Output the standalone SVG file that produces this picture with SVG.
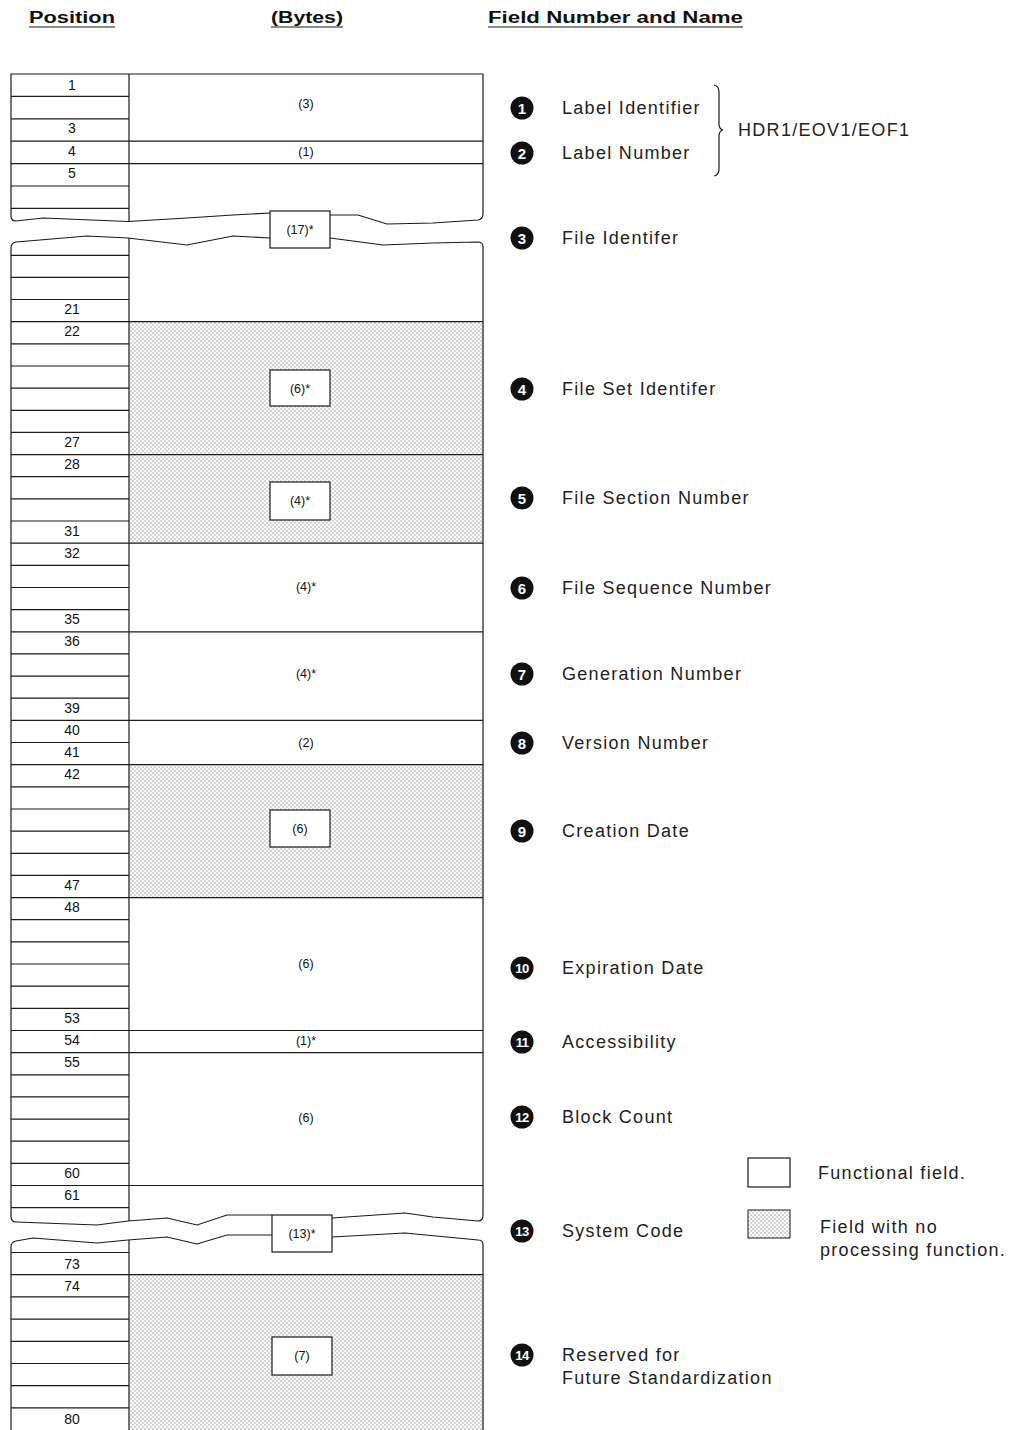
<svg xmlns="http://www.w3.org/2000/svg" width="1011" height="1430" viewBox="0 0 1011 1430">
<style>
.ln{stroke:#1a1a1a;stroke-width:1.2;fill:none}
.bx{stroke:#1a1a1a;stroke-width:1.2;fill:#fff}
.hd{font-family:"Liberation Sans",Arial,sans-serif;font-weight:bold;font-size:16px;fill:#111}
.pos{font-family:"Liberation Sans",Arial,sans-serif;font-size:14px;fill:#111;text-anchor:middle}
.by{font-family:"Liberation Sans",Arial,sans-serif;font-size:12.5px;fill:#111;text-anchor:middle}
.lb{font-family:"Liberation Sans",Arial,sans-serif;font-size:18px;fill:#222;letter-spacing:1.3px}
.cn{font-family:"Liberation Sans",Arial,sans-serif;font-weight:bold;font-size:15px;fill:#fff;text-anchor:middle}
.cn2{font-family:"Liberation Sans",Arial,sans-serif;font-weight:bold;font-size:13px;fill:#fff;text-anchor:middle;letter-spacing:-0.5px}
.st{fill:url(#stip)}
</style>
<defs>
<pattern id="stip" patternUnits="userSpaceOnUse" width="4" height="4">
<rect x="0" y="0" width="4" height="4" fill="#fff"/>
<rect x="0.5" y="0.5" width="1" height="1" fill="#555"/>
<rect x="2.5" y="2.5" width="1" height="1" fill="#555"/>
</pattern>
</defs>

<g id="headers">
<text class="hd" x="29" y="23" textLength="86" lengthAdjust="spacingAndGlyphs">Position</text>
<line class="ln" x1="29" y1="27" x2="115" y2="27"/>
<text class="hd" x="271" y="23" textLength="72" lengthAdjust="spacingAndGlyphs">(Bytes)</text>
<line class="ln" x1="271" y1="27" x2="343" y2="27"/>
<text class="hd" x="488" y="23" textLength="255" lengthAdjust="spacingAndGlyphs">Field Number and Name</text>
<line class="ln" x1="488" y1="27" x2="743" y2="27"/>
</g>

<g id="stippled-fields">
<rect class="st" x="129" y="321.7" width="354" height="221.5"/>
<rect class="st" x="129" y="764.7" width="354" height="132.9"/>
<rect class="st" x="129" y="1274.7" width="354" height="156"/>
</g>

<g id="outline" class="ln">
<path d="M129,74 H11 V216 Q11,221 16,221 L43,218 L128,221.5 L187,218 L233,215 L270,213"/>
<path d="M330,215 L358,215 L387,224 L433,223 L478,220 Q483,219 483,214 V74 H129"/>
<path d="M11,1216 V248 Q11,243 16,242 L40,240 L87,236 L128,238 L187,245 L233,236 L270,238"/>
<path d="M330,238 L383,245 L433,243 L478,242 Q483,242 483,247 V1215 Q483,1221 478,1221 L433,1217 L405,1213 L332,1218"/>
<path d="M11,1216 Q11,1222 16,1222 L97,1225 L128,1221 L167,1218 L197,1225 L227,1215 L272,1215"/>
<path d="M11,1431 V1247 Q11,1242 16,1241 L33,1238 L97,1243 L128,1240 L167,1237 L197,1244 L227,1235 L272,1235"/>
<path d="M332,1237 L405,1233 L478,1240 Q483,1240 483,1245 V1431"/>
<line x1="129" y1="74" x2="129" y2="221.5"/>
<line x1="129" y1="238" x2="129" y2="1221"/>
<line x1="129" y1="1240" x2="129" y2="1431"/>
</g>

<g id="position-rows" class="ln">
<path d="M11,96.4H129M11,118.8H129M11,141.2H129M11,163.6H129M11,186H129M11,208.4H129"/>
<path d="M11,255.3H129M11,277.4H129M11,299.5H129M11,321.7H129M11,343.8H129M11,366H129M11,388.1H129M11,410.3H129M11,432.4H129M11,454.6H129M11,476.7H129M11,498.9H129M11,521H129M11,543.2H129M11,565.3H129M11,587.5H129M11,609.6H129M11,631.8H129M11,653.9H129M11,676.1H129M11,698.2H129M11,720.4H129M11,742.5H129M11,764.7H129M11,786.8H129M11,809H129M11,831.1H129M11,853.3H129M11,875.4H129M11,897.6H129M11,919.7H129M11,941.9H129M11,964H129M11,986.2H129M11,1008.3H129M11,1030.5H129M11,1052.6H129M11,1074.8H129M11,1096.9H129M11,1119.1H129M11,1141.2H129M11,1163.4H129M11,1185.5H129M11,1207.7H129"/>
<path d="M11,1252.5H129M11,1274.7H129M11,1296.9H129M11,1319.1H129M11,1341.3H129M11,1363.5H129M11,1385.7H129M11,1407.9H129"/>
</g>

<g id="field-lines" class="ln">
<path d="M129,141.2H483M129,163.6H483M129,321.7H483M129,454.6H483M129,543.2H483M129,631.8H483M129,720.4H483M129,764.7H483M129,897.6H483M129,1030.5H483M129,1052.6H483M129,1185.5H483M129,1274.7H483"/>
</g>

<g id="position-labels">
<text class="pos" x="72" y="90">1</text>
<text class="pos" x="72" y="133">3</text>
<text class="pos" x="72" y="156">4</text>
<text class="pos" x="72" y="178">5</text>
<text class="pos" x="72" y="314">21</text>
<text class="pos" x="72" y="336">22</text>
<text class="pos" x="72" y="447">27</text>
<text class="pos" x="72" y="469">28</text>
<text class="pos" x="72" y="536">31</text>
<text class="pos" x="72" y="558">32</text>
<text class="pos" x="72" y="624">35</text>
<text class="pos" x="72" y="646">36</text>
<text class="pos" x="72" y="713">39</text>
<text class="pos" x="72" y="735">40</text>
<text class="pos" x="72" y="757">41</text>
<text class="pos" x="72" y="779">42</text>
<text class="pos" x="72" y="890">47</text>
<text class="pos" x="72" y="912">48</text>
<text class="pos" x="72" y="1023">53</text>
<text class="pos" x="72" y="1045">54</text>
<text class="pos" x="72" y="1067">55</text>
<text class="pos" x="72" y="1178">60</text>
<text class="pos" x="72" y="1200">61</text>
<text class="pos" x="72" y="1269">73</text>
<text class="pos" x="72" y="1291">74</text>
<text class="pos" x="72" y="1424">80</text>
</g>

<g id="field-1"><text class="by" x="306" y="108">(3)</text></g>
<g id="field-2"><text class="by" x="306" y="156">(1)</text></g>
<g id="field-3"><rect class="bx" x="270" y="211" width="60" height="37"/><text class="by" x="300" y="234">(17)*</text></g>
<g id="field-4"><rect class="bx" x="270" y="370" width="60" height="36"/><text class="by" x="300" y="393">(6)*</text></g>
<g id="field-5"><rect class="bx" x="270" y="482" width="60" height="38"/><text class="by" x="300" y="505">(4)*</text></g>
<g id="field-6"><text class="by" x="306" y="591">(4)*</text></g>
<g id="field-7"><text class="by" x="306" y="678">(4)*</text></g>
<g id="field-8"><text class="by" x="306" y="747">(2)</text></g>
<g id="field-9"><rect class="bx" x="270" y="810" width="60" height="37"/><text class="by" x="300" y="833">(6)</text></g>
<g id="field-10"><text class="by" x="306" y="968">(6)</text></g>
<g id="field-11"><text class="by" x="306" y="1045">(1)*</text></g>
<g id="field-12"><text class="by" x="306" y="1122">(6)</text></g>
<g id="field-13"><rect class="bx" x="272" y="1215" width="60" height="37"/><text class="by" x="302" y="1238">(13)*</text></g>
<g id="field-14"><rect class="bx" x="272" y="1337" width="60" height="38"/><text class="by" x="302" y="1360">(7)</text></g>

<g id="names">
<circle cx="522" cy="108" r="11.5" fill="#111"/><text class="cn" x="522" y="113.5">1</text>
<text class="lb" x="562" y="114">Label Identifier</text>
<circle cx="522" cy="153" r="11.5" fill="#111"/><text class="cn" x="522" y="158.5">2</text>
<text class="lb" x="562" y="159">Label Number</text>
<path class="ln" d="M714,85 Q719,86 719,92 V124 Q719,129 723,130 Q719,131 719,136 V169 Q719,175 714,176"/>
<text class="lb" x="738" y="136">HDR1/EOV1/EOF1</text>
<circle cx="522" cy="238" r="11.5" fill="#111"/><text class="cn" x="522" y="243.5">3</text>
<text class="lb" x="562" y="244">File Identifer</text>
<circle cx="522" cy="389" r="11.5" fill="#111"/><text class="cn" x="522" y="394.5">4</text>
<text class="lb" x="562" y="395">File Set Identifer</text>
<circle cx="522" cy="498" r="11.5" fill="#111"/><text class="cn" x="522" y="503.5">5</text>
<text class="lb" x="562" y="504">File Section Number</text>
<circle cx="522" cy="588" r="11.5" fill="#111"/><text class="cn" x="522" y="593.5">6</text>
<text class="lb" x="562" y="594">File Sequence Number</text>
<circle cx="522" cy="674" r="11.5" fill="#111"/><text class="cn" x="522" y="679.5">7</text>
<text class="lb" x="562" y="680">Generation Number</text>
<circle cx="522" cy="743" r="11.5" fill="#111"/><text class="cn" x="522" y="748.5">8</text>
<text class="lb" x="562" y="749">Version Number</text>
<circle cx="522" cy="831" r="11.5" fill="#111"/><text class="cn" x="522" y="836.5">9</text>
<text class="lb" x="562" y="837">Creation Date</text>
<circle cx="522" cy="968" r="11.5" fill="#111"/><text class="cn2" x="522" y="972.5">10</text>
<text class="lb" x="562" y="974">Expiration Date</text>
<circle cx="522" cy="1042" r="11.5" fill="#111"/><text class="cn2" x="522" y="1046.5">11</text>
<text class="lb" x="562" y="1048">Accessibility</text>
<circle cx="522" cy="1117" r="11.5" fill="#111"/><text class="cn2" x="522" y="1121.5">12</text>
<text class="lb" x="562" y="1123">Block Count</text>
<circle cx="522" cy="1231" r="11.5" fill="#111"/><text class="cn2" x="522" y="1235.5">13</text>
<text class="lb" x="562" y="1237">System Code</text>
<circle cx="522" cy="1355" r="11.5" fill="#111"/><text class="cn2" x="522" y="1359.5">14</text>
<text class="lb" x="562" y="1361">Reserved for</text>
<text class="lb" x="562" y="1384">Future Standardization</text>
</g>

<g id="legend">
<rect class="bx" x="748" y="1158" width="42" height="29"/>
<text class="lb" x="818" y="1179">Functional field.</text>
<rect class="st" x="748" y="1210" width="42" height="28" stroke="#1a1a1a" stroke-width="1"/>
<text class="lb" x="820" y="1233">Field with no</text>
<text class="lb" x="820" y="1256">processing function.</text>
</g>
</svg>
